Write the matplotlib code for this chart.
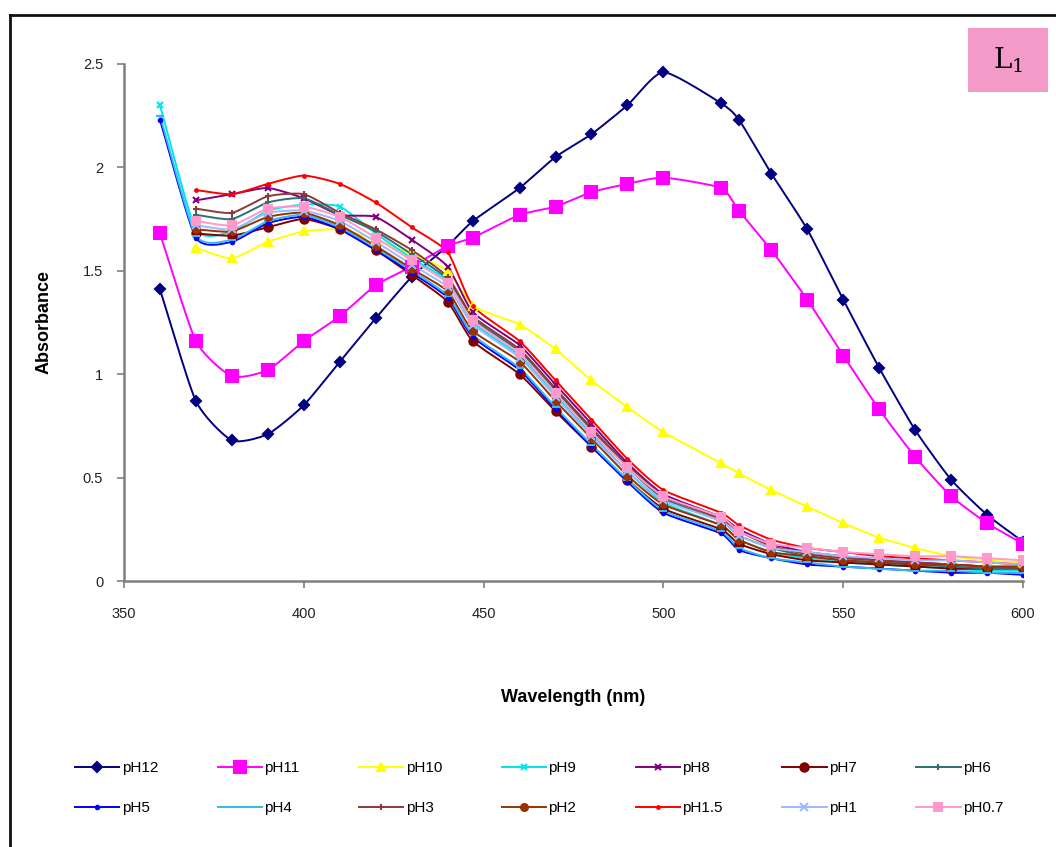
import numpy as np
import matplotlib
matplotlib.use("Agg")
import matplotlib.pyplot as plt
from matplotlib.lines import Line2D
from matplotlib.patches import Rectangle

plt.rcParams['font.family'] = ['Liberation Sans', 'DejaVu Sans']

nan = np.nan
wavelength = [360, 370, 380, 390, 400, 410, 420, 430, 440, 447, 460, 470, 480,
              490, 500, 516, 521, 530, 540, 550, 560, 570, 580, 590, 600]

ph12 = [1.41, 0.87, 0.68, 0.71, 0.85, 1.06, 1.27, 1.47, 1.62, 1.74, 1.90, 2.05, 2.16,
        2.30, 2.46, 2.31, 2.23, 1.97, 1.70, 1.36, 1.03, 0.73, 0.49, 0.32, 0.19]
ph11 = [1.68, 1.16, 0.99, 1.02, 1.16, 1.28, 1.43, 1.52, 1.62, 1.66, 1.77, 1.81, 1.88,
        1.92, 1.95, 1.90, 1.79, 1.60, 1.36, 1.09, 0.83, 0.60, 0.41, 0.28, 0.18]
ph10 = [nan, 1.61, 1.56, 1.64, 1.69, 1.70, 1.65, 1.58, 1.50, 1.33, 1.24, 1.12, 0.97,
        0.84, 0.72, 0.57, 0.52, 0.44, 0.36, 0.28, 0.21, 0.16, 0.12, 0.10, 0.09]
ph9 = [2.30, 1.70, 1.69, 1.79, 1.82, 1.81, 1.68, 1.56, 1.45, 1.25, 1.09, 0.90, 0.71,
       0.53, 0.38, 0.27, 0.20, 0.14, 0.11, 0.09, 0.08, 0.07, 0.06, 0.05, 0.05]
ph8 = [nan, 1.84, 1.87, 1.90, 1.85, 1.77, 1.76, 1.65, 1.52, 1.30, 1.14, 0.95, 0.76,
       0.57, 0.42, 0.31, 0.25, 0.18, 0.14, 0.12, 0.10, 0.09, 0.08, 0.07, 0.07]
ph7 = [nan, 1.68, 1.67, 1.71, 1.75, 1.70, 1.60, 1.48, 1.35, 1.16, 1.00, 0.82, 0.65,
       0.49, 0.35, 0.25, 0.18, 0.13, 0.10, 0.09, 0.08, 0.07, 0.06, 0.06, 0.06]
ph6 = [nan, 1.77, 1.75, 1.83, 1.85, 1.77, 1.69, 1.58, 1.46, 1.27, 1.11, 0.92, 0.73,
       0.55, 0.40, 0.29, 0.22, 0.16, 0.12, 0.10, 0.09, 0.08, 0.07, 0.06, 0.06]
ph5 = [2.23, 1.66, 1.64, 1.73, 1.76, 1.70, 1.60, 1.49, 1.37, 1.18, 1.02, 0.83, 0.65,
       0.48, 0.33, 0.23, 0.15, 0.11, 0.08, 0.07, 0.06, 0.05, 0.04, 0.04, 0.03]
ph4 = [2.25, 1.67, 1.65, 1.74, 1.77, 1.71, 1.61, 1.50, 1.38, 1.19, 1.03, 0.84, 0.66,
       0.49, 0.34, 0.24, 0.16, 0.11, 0.09, 0.07, 0.06, 0.05, 0.05, 0.04, 0.04]
ph3 = [nan, 1.80, 1.78, 1.86, 1.87, 1.78, 1.70, 1.60, 1.47, 1.28, 1.12, 0.93, 0.74,
       0.56, 0.41, 0.30, 0.24, 0.17, 0.13, 0.11, 0.10, 0.09, 0.08, 0.07, 0.06]
ph2 = [nan, 1.70, 1.69, 1.76, 1.78, 1.72, 1.62, 1.51, 1.40, 1.21, 1.06, 0.87, 0.69,
       0.51, 0.37, 0.27, 0.20, 0.14, 0.12, 0.10, 0.09, 0.08, 0.08, 0.07, 0.07]
ph1_5 = [nan, 1.89, 1.87, 1.92, 1.96, 1.92, 1.83, 1.71, 1.59, 1.33, 1.16, 0.97, 0.78,
         0.59, 0.44, 0.33, 0.27, 0.20, 0.16, 0.14, 0.12, 0.11, 0.10, 0.09, 0.08]
ph1 = [nan, 1.72, 1.70, 1.78, 1.79, 1.74, 1.64, 1.53, 1.42, 1.24, 1.08, 0.89, 0.70,
       0.53, 0.39, 0.29, 0.22, 0.16, 0.14, 0.12, 0.11, 0.10, 0.10, 0.09, 0.08]
ph0_7 = [nan, 1.74, 1.72, 1.80, 1.81, 1.76, 1.66, 1.55, 1.44, 1.26, 1.10, 0.91, 0.72,
         0.55, 0.41, 0.31, 0.24, 0.18, 0.16, 0.14, 0.13, 0.12, 0.12, 0.11, 0.10]

labels = ["pH12", "pH11", "pH10", "pH9", "pH8", "pH7", "pH6",
          "pH5", "pH4", "pH3", "pH2", "pH1.5", "pH1", "pH0.7"]
series = [ph12, ph11, ph10, ph9, ph8, ph7, ph6, ph5, ph4, ph3, ph2, ph1_5, ph1, ph0_7]

# colour, marker, marker size for each series (Excel-style palette)
styles = [
    ("#000080", "D", 5.5),
    ("#FF00FF", "s", 9),
    ("#FFFF00", "^", 6),
    ("#00E5EE", "x", 5),
    ("#800080", "x", 5),
    ("#800000", "o", 6),
    ("#2F6F6F", "+", 5),
    ("#0000FF", ".", 5),
    ("#33BBEE", "_", 6),
    ("#8B3A3A", "+", 4),
    ("#993300", "o", 5),
    ("#FF0000", ".", 4),
    ("#99BBFF", "x", 6),
    ("#FF99CC", "s", 6),
]


def smooth(x, y, n=12, tension=0.6):
    """Cardinal spline through the points (like spreadsheet smoothed lines)."""
    x = np.asarray(x, float)
    y = np.asarray(y, float)
    ok = ~np.isnan(y)
    x, y = x[ok], y[ok]
    xs, ys = [], []
    t = np.linspace(0, 1, n, endpoint=False)
    h00 = 2 * t ** 3 - 3 * t ** 2 + 1
    h10 = t ** 3 - 2 * t ** 2 + t
    h01 = -2 * t ** 3 + 3 * t ** 2
    h11 = t ** 3 - t ** 2

    def tangents(a):
        m = np.zeros_like(a)
        m[1:-1] = (a[2:] - a[:-2]) / 2 * tension
        m[0] = (a[1] - a[0]) * tension
        m[-1] = (a[-1] - a[-2]) * tension
        return m

    mx, my = tangents(x), tangents(y)
    for i in range(len(x) - 1):
        xs.extend(h00 * x[i] + h10 * mx[i] + h01 * x[i + 1] + h11 * mx[i + 1])
        ys.extend(h00 * y[i] + h10 * my[i] + h01 * y[i + 1] + h11 * my[i + 1])
    xs.append(x[-1])
    ys.append(y[-1])
    return np.array(xs), np.array(ys)


fig = plt.figure(figsize=(10.56, 8.47), dpi=100)
ax = fig.add_axes([0.1174, 0.314, 0.8514, 0.6106])

handles = []
for vals, lab, (col, mk, ms) in zip(series, labels, styles):
    sx, sy = smooth(wavelength, vals)
    ax.plot(sx, sy, color=col, lw=1.4, zorder=2)
    ax.plot(wavelength, vals, linestyle="none", marker=mk, color=col,
            markersize=ms, markeredgewidth=1.5, zorder=3)
    handles.append(Line2D([0], [0], color=col, lw=1.4, marker=mk,
                          markersize=ms, markeredgewidth=1.5))

ax.set_xlim(350, 600)
ax.set_ylim(0, 2.5)
ax.set_xticks([350, 400, 450, 500, 550, 600])
ax.set_yticks([0, 0.5, 1, 1.5, 2, 2.5])
ax.set_yticklabels(["0", "0.5", "1", "1.5", "2", "2.5"])
for s in ("top", "right"):
    ax.spines[s].set_visible(False)
for s in ("left", "bottom"):
    ax.spines[s].set_color("#7f7f7f")
    ax.spines[s].set_linewidth(1.8)
ax.tick_params(axis="both", direction="out", length=5, width=1.2,
               color="#7f7f7f", labelsize=10.5, labelcolor="#222222")
ax.tick_params(axis="x", pad=14)
ax.tick_params(axis="y", pad=10)

ax.set_xlabel("Wavelength (nm)", fontsize=13, fontweight="bold", labelpad=49)
ax.set_ylabel("Absorbance", fontsize=13, fontweight="bold", labelpad=22)

# legend laid out row by row (7 per row)
ncol = 7
order = [r * ncol + c for c in range(ncol) for r in range(2)]
fig.legend([handles[i] for i in order], [labels[i] for i in order],
           loc="lower left", bbox_to_anchor=(0.058, 0.021),
           ncol=ncol, frameon=False, fontsize=11, handlelength=2.9,
           handletextpad=0.15, columnspacing=3.9, labelspacing=1.7)

# compound label in the corner
fig.patches.append(Rectangle((968 / 1056, 1 - 92 / 847), 80 / 1056, 64 / 847,
                             transform=fig.transFigure, facecolor="#F49AC9",
                             edgecolor="none", zorder=1))
fig.text(1008 / 1056, 1 - 60 / 847, r"$\mathrm{L}_1$", ha="center", va="center",
         fontsize=20, family="DejaVu Serif", math_fontfamily="dejavuserif")

# outer frame (top and left edges)
fig.add_artist(Line2D([10 / 1056, 1.0], [1 - 15 / 847, 1 - 15 / 847],
                      transform=fig.transFigure, color="#111111", lw=2))
fig.add_artist(Line2D([10 / 1056, 10 / 1056], [0.0, 1 - 15 / 847],
                      transform=fig.transFigure, color="#111111", lw=2))

fig.savefig("out.png", dpi=100)
